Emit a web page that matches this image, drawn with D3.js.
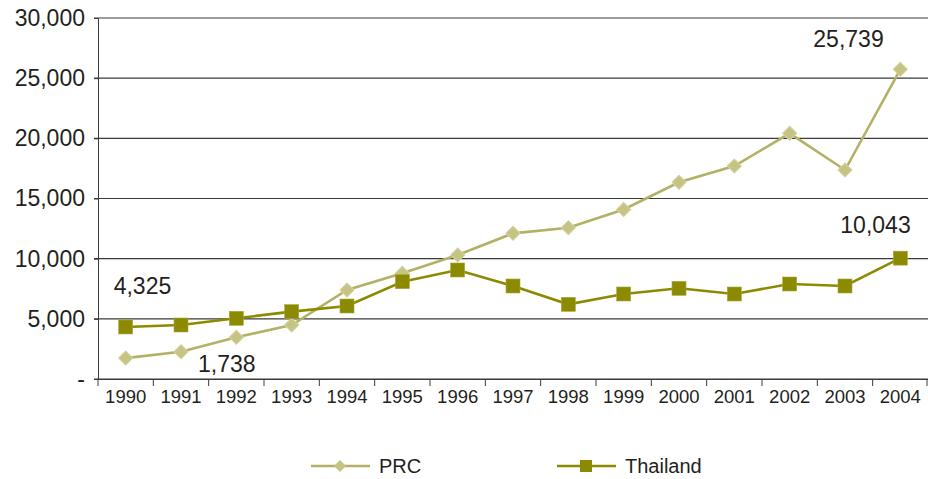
<!DOCTYPE html>
<html><head><meta charset="utf-8">
<script src="https://cdn.jsdelivr.net/npm/d3@7"></script>
<style>html,body{margin:0;padding:0;background:#fff;}svg{display:block;font-family:"Liberation Sans",Arial,Helvetica,sans-serif;}</style>
</head><body><svg id="c" width="928" height="479"></svg>
<script>
const years = ["1990","1991","1992","1993","1994","1995","1996","1997","1998","1999","2000","2001","2002","2003","2004"];
const prc = [1738,2270,3465,4488,7396,8781,10305,12105,12576,14086,16343,17700,20415,17368,25739];
const thailand = [4325,4488,5044,5596,6066,8086,9058,7729,6205,7064,7535,7064,7895,7729,10043];
const yTicks = [0,5000,10000,15000,20000,25000,30000];
const seriesNames = ["PRC","Thailand"];
const annotations = [
  {text:"4,325", year:"1990", value:4325, dx:-12, dy:-33},
  {text:"1,738", year:"1991", value:1738, dx:17, dy:14},
  {text:"25,739", year:"2004", value:25739, dx:-87, dy:-22},
  {text:"10,043", year:"2004", value:10043, dx:-60, dy:-25}
];

const svg = d3.select("#c");
const L = 98, R = 928, T = 18, B = 379;
const x = d3.scaleBand().domain(years).range([L, R]).padding(0);
const y = d3.scaleLinear().domain([0, 30000]).range([B, T]);
const cx = d => x(d) + x.bandwidth()/2;
const fmt = d3.format(",");

// gridlines
svg.append("g").selectAll("line").data(yTicks).join("line")
  .attr("x1", L-4).attr("x2", R).attr("y1", d=>y(d)).attr("y2", d=>y(d))
  .attr("stroke", "#3a3a3a").attr("stroke-width", 1.1);

// y axis
const ya = svg.append("g").attr("transform", `translate(${L},0)`)
  .call(d3.axisLeft(y).tickValues(yTicks).tickSize(4).tickFormat(d => d===0 ? "-" : fmt(d)));
ya.select(".domain").attr("stroke", "#3a3a3a");
ya.selectAll(".tick line").attr("stroke", "#3a3a3a");
ya.selectAll("text").attr("font-size", 23).attr("fill", "#231f20").attr("x", -13)
  .attr("font-family", "Liberation Sans, Arial, sans-serif");

// x axis
const xa = svg.append("g").attr("transform", `translate(0,${B})`)
  .call(d3.axisBottom(x).tickSize(0).tickPadding(11));
xa.select(".domain").attr("stroke", "#3a3a3a");
xa.selectAll("text").attr("font-size", 18.5).attr("fill", "#231f20")
  .attr("font-family", "Liberation Sans, Arial, sans-serif");
const bounds = years.map(d => x(d)).concat([R-1]);
xa.selectAll(".bt").data(bounds).join("line").attr("class","bt")
  .attr("x1", d=>d).attr("x2", d=>d).attr("y1", 0).attr("y2", 7)
  .attr("stroke", "#3a3a3a");

const prcColor = "#b3b165", prcMarker = "#c6c483";
const thColor = "#8c8a00";

const line = d3.line().x((d,i)=>cx(years[i])).y(d=>y(d));
svg.append("path").datum(prc).attr("d", line).attr("fill","none")
  .attr("stroke", prcColor).attr("stroke-width", 2.6);
svg.append("path").datum(thailand).attr("d", line).attr("fill","none")
  .attr("stroke", thColor).attr("stroke-width", 2.6);

const diamond = d3.symbol().type(d3.symbolSquare).size(100)();
svg.append("g").selectAll("path").data(prc).join("path")
  .attr("d", diamond)
  .attr("transform", (d,i)=>`translate(${cx(years[i])},${y(d)}) rotate(45)`)
  .attr("fill", prcMarker).attr("stroke", "#d3d2a0").attr("stroke-width", 1);
svg.append("g").selectAll("rect").data(thailand).join("rect")
  .attr("x", (d,i)=>cx(years[i])-7).attr("y", d=>y(d)-7)
  .attr("width", 14).attr("height", 14)
  .attr("fill", thColor).attr("stroke", "#a9a740").attr("stroke-width", 0.6);

// annotations
svg.append("g").selectAll("text").data(annotations).join("text")
  .attr("x", d=>cx(d.year)+d.dx).attr("y", d=>y(d.value)+d.dy)
  .attr("font-size", 23).attr("fill", "#231f20").text(d=>d.text);

// legend
const lg = svg.append("g");
const legendItems = [
  {name: seriesNames[0], x: 311, color: prcColor, type: "d"},
  {name: seriesNames[1], x: 557, color: thColor, type: "s"}
];
legendItems.forEach(it => {
  lg.append("line").attr("x1", it.x).attr("x2", it.x+59).attr("y1", 466).attr("y2", 466)
    .attr("stroke", it.color).attr("stroke-width", 2.6);
  if (it.type === "d") {
    lg.append("path").attr("d", d3.symbol().type(d3.symbolSquare).size(72)())
      .attr("transform", `translate(${it.x+29},466) rotate(45)`).attr("fill", prcMarker);
  } else {
    lg.append("rect").attr("x", it.x+23).attr("y", 460).attr("width", 12).attr("height", 12).attr("fill", thColor);
  }
  lg.append("text").attr("x", it.x+68).attr("y", 473).attr("font-size", 20).attr("fill", "#231f20").text(it.name);
});
</script></body></html>
